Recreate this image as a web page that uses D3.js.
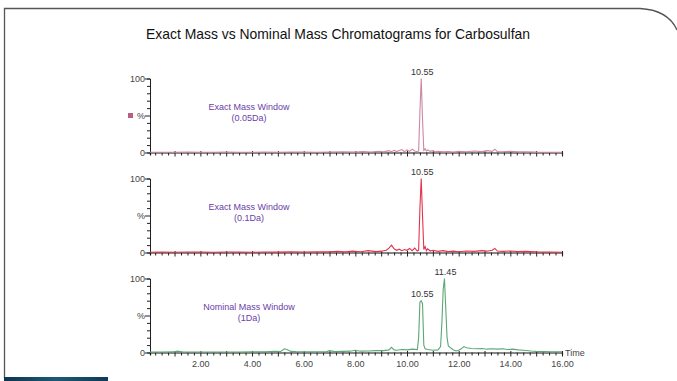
<!DOCTYPE html>
<html><head><meta charset="utf-8">
<script src="https://cdn.jsdelivr.net/npm/d3@7"></script>
<style>body{margin:0;background:#fff;}svg{display:block;font-family:"Liberation Sans",Arial,sans-serif;}</style>
</head><body>
<svg id="c" width="677" height="381"></svg>
<script>
const title = "Exact Mass vs Nominal Mass Chromatograms for Carbosulfan";
const panelLabels = [["Exact Mass Window","(0.05Da)"],["Exact Mass Window","(0.1Da)"],["Nominal Mass Window","(1Da)"]];
const xTickLabels = [2,4,6,8,10,12,14,16];
const yTickLabels = {0:"0",50:"%",100:"100"};

const rt1 = [0.05,0.5,1.0,1.5,2.0,2.5,3.0,3.5,4.0,4.5,5.0,5.5,6.0,6.5,7.0,7.5,8.0,8.3,8.6,8.9,9.1,9.3,9.4,9.5,9.6,9.7,9.8,9.9,10.0,10.1,10.2,10.3,10.4,10.45,10.5,10.55,10.6,10.65,10.7,10.75,10.8,10.9,11.0,11.1,11.2,11.4,11.6,11.8,12.0,12.3,12.6,12.9,13.1,13.3,13.4,13.5,13.7,14.0,14.3,14.6,15.0,15.5,16.0];
const int1 = [0.3,0.4,0.3,0.5,0.4,0.3,0.5,0.4,0.3,0.5,0.4,0.6,0.5,0.4,0.6,0.8,0.5,1.2,0.6,1.5,0.8,2.5,1.0,3.0,1.2,2.8,4.0,1.0,3.5,1.5,4.5,2.0,1.0,2.0,55,100,45,3,5,2,3.5,1.5,2.5,1.0,1.5,0.8,1.2,0.6,1.5,1.0,2.0,1.2,2.5,1.5,4.5,1.2,1.0,1.6,0.8,1.0,0.5,0.3,0.2];

const rt2 = [0.05,0.5,1.0,1.5,2.0,2.5,3.0,3.5,4.0,4.5,5.0,5.5,6.0,6.5,7.0,7.3,7.6,7.9,8.2,8.5,8.8,9.0,9.2,9.3,9.4,9.5,9.6,9.7,9.8,9.9,10.0,10.1,10.2,10.3,10.4,10.45,10.5,10.55,10.6,10.65,10.7,10.75,10.8,10.9,11.0,11.2,11.4,11.6,11.8,12.0,12.3,12.6,12.9,13.1,13.3,13.4,13.5,13.7,14.0,14.3,14.6,15.0,15.5,16.0];
const int2 = [0.3,0.5,0.4,0.6,0.5,0.4,0.6,0.5,0.4,0.6,0.5,0.8,0.6,1.0,0.8,1.5,0.9,1.8,1.0,2.5,1.2,1.8,3.0,6.0,10.0,5.0,3.0,4.5,2.5,4.0,3.0,5.5,2.5,6.0,2.0,3.0,60,100,50,4,8,2.5,5,2.0,3.0,1.5,2.5,1.2,1.8,1.0,2.0,1.5,2.5,1.8,3.0,5.5,2.0,1.5,2.0,1.2,1.5,0.8,0.5,0.4];

const rt3 = [0.05,0.5,1.0,1.1,1.3,1.6,2.0,2.5,3.0,3.5,4.0,4.5,4.9,5.1,5.25,5.35,5.5,5.7,6.0,6.5,6.9,7.0,7.2,7.5,7.8,8.0,8.2,8.5,8.8,9.1,9.3,9.4,9.5,9.6,9.8,10.0,10.2,10.4,10.45,10.5,10.55,10.6,10.65,10.7,10.8,11.0,11.2,11.3,11.35,11.4,11.45,11.5,11.55,11.6,11.7,11.8,11.9,12.0,12.1,12.2,12.3,12.5,12.7,12.9,13.1,13.3,13.5,13.7,13.9,14.1,14.3,14.5,14.8,15.0,15.3,15.6,16.0];
const int3 = [0.5,0.6,0.8,1.8,0.8,0.6,0.7,0.6,0.7,0.6,0.8,0.9,1.5,1.2,5.0,4.0,1.5,1.2,1.0,1.0,1.2,2.5,1.2,1.5,1.8,3.0,1.8,2.0,2.5,2.5,3.5,7.0,3.5,3.0,4.0,3.5,4.5,4.0,20,68,70,66,10,5,4,3.0,3.5,8,40,85,100,60,20,9,6,3.5,2.0,3.0,5.0,8.0,6.5,5.5,5.0,5.5,4.5,5.0,4.5,5.0,4.0,4.5,3.5,3.0,2.0,1.5,1.2,1.0,0.8];

const rts = [rt1, rt2, rt3];
const ints = [int1, int2, int3];
const peakLabels = [[10.55],[10.55],[10.55,11.45]];
const colors = ["#cf86a4","#e2334f","#5aa874"];

const svg = d3.select("#c");

// frame
svg.append("path").attr("d","M4.5,378 L4.5,8.5 L640,8.5 Q668,10 677,30")
  .attr("fill","none").attr("stroke","#555").attr("stroke-width",1.3);
const grad = svg.append("defs").append("linearGradient").attr("id","bg").attr("x1","0").attr("x2","1");
grad.append("stop").attr("offset","0").attr("stop-color","#0d3550");
grad.append("stop").attr("offset","0.5").attr("stop-color","#1d5878");
grad.append("stop").attr("offset","1").attr("stop-color","#0e3a58");
svg.append("rect").attr("x",4).attr("y",377).attr("width",104).attr("height",4).attr("fill","url(#bg)");

svg.append("text").attr("x",338).attr("y",39).attr("text-anchor","middle")
  .attr("font-size",15).attr("fill","#111")
  .attr("textLength",384).attr("lengthAdjust","spacingAndGlyphs").text(title);

const x = d3.scaleLinear().domain([0.05,16]).range([150,562]);
const yRanges = [[152.5,78.5],[252.5,178.5],[352.5,278.5]];
const xTicks = d3.range(0,16.001,0.25).filter(t=>t>=0.25);

yRanges.forEach((yr,i)=>{
  const y = d3.scaleLinear().domain([0,100]).range(yr);
  const g = svg.append("g");
  const ya = g.append("g").attr("transform","translate(150,0)")
    .call(d3.axisLeft(y).tickValues(d3.range(0,101,10)).tickSize(3).tickFormat(d=>yTickLabels[d]||""));
  ya.selectAll("line").attr("stroke","#222").attr("x2",d=>(d%50===0)?-5:-3);
  ya.select(".domain").attr("stroke","#222");
  ya.selectAll("text").attr("font-size",9).attr("fill","#444").attr("x",-5).attr("font-family","Liberation Sans, Arial, sans-serif");
  const xa = g.append("g").attr("transform",`translate(0,${yr[0]})`)
    .call(d3.axisBottom(x).tickValues(xTicks).tickSizeOuter(0).tickSize(3)
      .tickFormat(d=> (i===2 && xTickLabels.includes(d)) ? d.toFixed(2) : ""));
  xa.selectAll("line").attr("stroke","#222").attr("y1",d=>Number.isInteger(d)?-1.5:0).attr("y2",d=>Number.isInteger(d)?4:3);
  xa.select(".domain").attr("stroke","#111").attr("stroke-width",1.2);
  xa.selectAll("text").attr("font-size",9).attr("fill","#444").attr("dy","0.9em").attr("font-family","Liberation Sans, Arial, sans-serif");
  const pts = rts[i].map((t,k)=>[t,ints[i][k]]);
  g.append("path").datum(pts)
    .attr("d", d3.line().x(d=>x(d[0])).y(d=>y(d[1])))
    .attr("fill","none").attr("stroke",colors[i]).attr("stroke-width",1.1);
  peakLabels[i].forEach(p=>{
    const k = rts[i].indexOf(p);
    g.append("text").attr("x",x(p)+1).attr("y",y(ints[i][k])-4).attr("text-anchor","middle")
      .attr("font-size",9).attr("fill","#333").text(p.toFixed(2));
  });
  const lab = g.append("text").attr("x",249).attr("text-anchor","middle").attr("font-size",9).attr("fill","#6a3ea8");
  lab.append("tspan").attr("x",249).attr("y",yr[1]+31).text(panelLabels[i][0]);
  lab.append("tspan").attr("x",249).attr("y",yr[1]+42).text(panelLabels[i][1]);
});

svg.append("rect").attr("x",128).attr("y",113).attr("width",5).attr("height",5).attr("fill","#b5607f");
svg.append("text").attr("x",565).attr("y",356).attr("font-size",9).attr("fill","#444").text("Time");
</script>
</body></html>
